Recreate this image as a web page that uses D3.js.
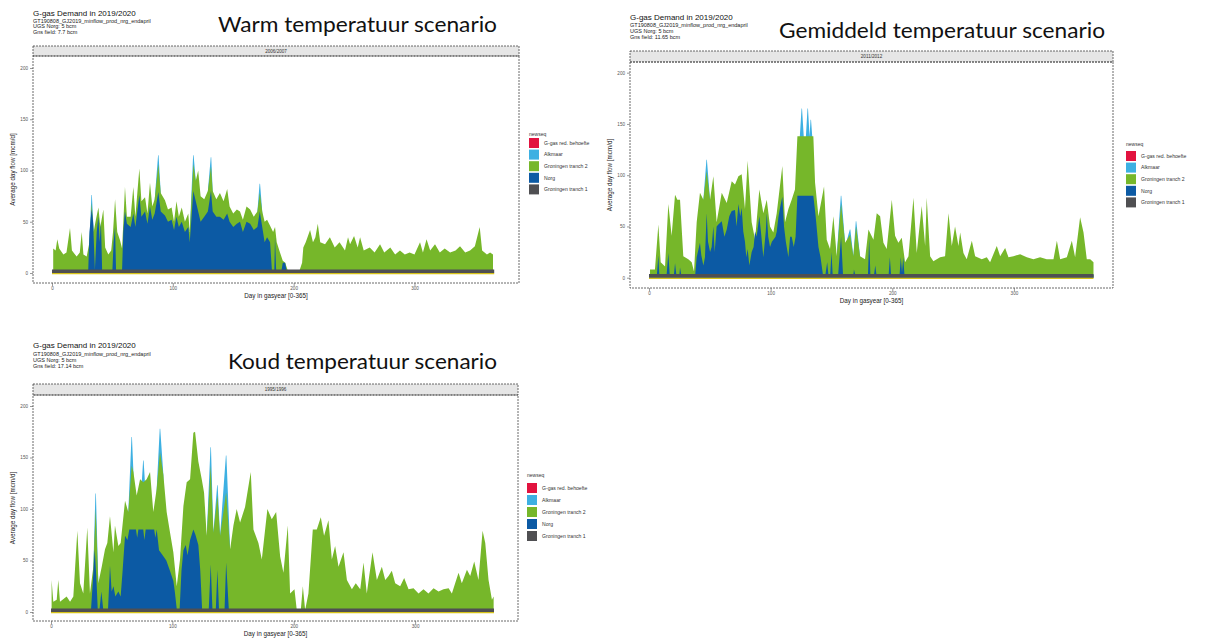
<!DOCTYPE html>
<html lang="nl">
<head>
<meta charset="UTF-8">
<title>G-gas Demand scenario's</title>
<script src="https://d3js.org/d3.v7.min.js"></script>
<style>
  body { margin: 0; background: #fff; }
  svg { display: block; font-family: "Liberation Sans", Arial, sans-serif; }
</style>
</head>
<body>
<div id="chart"></div>
<script>
// legend + axis ticks
const legendKeys = ["G-gas red. behoefte", "Alkmaar", "Groningen tranch 2", "Norg", "Groningen tranch 1"];
const legendColors = ["#e2133f", "#3db0e2", "#76b72a", "#0c5aa4", "#4f4f52"];
const xTicks = [0, 100, 200, 300];
const yTicks = [0, 50, 100, 150, 200];

// ---- Warm (2006/2007), [day, mcm/d], top edge of each colour ----
const warmGreen = [[1,24],[3,22],[4.4,33],[6,24],[9.4,18],[12,20],[14.9,44],[16.5,22],[20.4,16],[23,20],[24.6,40],[26,18],
  [28.7,16],[31,30],[32.8,68],[34.5,40],[36,50],[38.4,64],[40,45],[42.5,62],[44,25],[46.6,18],[49,22],[50.5,40],[52.2,72],
  [54,40],[56.3,32],[58,24],[60.4,84],[62,55],[65.1,55],[67.3,84],[69,55],[72.3,102],[74,70],[77,74],[79,58],[81.1,88],
  [83,65],[85,72],[88,106],[90,78],[93.5,71],[96,62],[99,64],[101,50],[103,70],[105,55],[107.4,64],[110,50],[112.8,58],
  [114,40],[117,106],[119,90],[121,100],[123,75],[126,72],[129,80],[131.6,104],[133,80],[136,72],[139,78],[142,70],[145,82],
  [147,65],[150,58],[153,62],[155.6,60],[158,52],[161,65],[164,62],[167,55],[170,60],[172,78],[174,60],[176,50],[178,52],
  [180.5,46],[183,40],[184.6,45],[186,30],[188.7,20],[191,12],[193,10],[195,3],[205,3],[207,10],[208,25],[210,30],[213.6,42],
  [216,30],[218,35],[220,48],[222,30],[226,28],[230,35],[234,25],[238,30],[242.5,22],[245,35],[246.7,28],[250,36],[253,25],
  [255,35],[258,22],[263,25],[267,20],[271.5,28],[275,20],[280,25],[284,18],[288,22],[292,18],[296,20],[300,18],[304.6,30],
  [307,20],[310,33],[313,22],[317,28],[321,20],[325,24],[329.5,20],[334,22],[337.7,26],[342,20],[346,22],[350,26],[354,45],
  [356,22],[360,18],[362.6,20],[365,18]];
const warmNorg = [[1,3],[30,3],[31,40],[32.8,62],[34,50],[35.5,3],[37,40],[38.4,55],[39.5,30],[40.5,50],[41.5,3],[50,3],
  [51,30],[52.2,45],[53,3],[58,3],[59,40],[60.4,60],[62,48],[65.1,45],[67.3,58],[69,45],[72.3,76],[74,55],[77,60],[79,48],
  [81.1,65],[83,52],[85,58],[88,79],[90,60],[93.5,56],[96,50],[99,52],[101,42],[103,55],[105,45],[107.4,50],[110,40],
  [112.8,45],[114,30],[117,80],[119,70],[121,60],[123,50],[126,55],[129,60],[131.6,80],[133,60],[136,55],[139,55],[142,52],
  [145,58],[147,50],[150,45],[153,48],[155.6,50],[158,40],[161,50],[164,48],[167,42],[170,45],[172,60],[174,45],[176,30],
  [178,35],[180.5,30],[182,3],[184,3],[184.6,35],[185.5,3],[190,3],[191,10],[193,10],[194,3],[365,3]];
const warmAlkmaar = [
  [31,0],[31,30],[32.6,76],[33,76],[34.5,40],[34.5,0],
  [85,0],[85,72],[87.8,115],[88.2,115],[90,78],[90,0],
  [114,0],[114,40],[116.8,115],[117.2,115],[119,90],[119,0],
  [129,0],[129,80],[131.4,113],[131.8,113],[133,80],[133,0],
  [170,0],[170,60],[171.8,87],[172.2,87],[174,60],[174,0]];
const warmBase = [[0,3.5],[366,3.5]];

// ---- Gemiddeld (2011/2012) ----
const avgGreen = [[0.8,8],[4.9,8],[7.7,52],[9.6,15],[13.2,11],[15.9,72],[18.6,41],[21.4,81],[23.3,76],[25.5,76],[28.2,21],
  [32.3,18],[35.1,15],[37,6],[39.2,54],[41.9,83],[44.7,76],[47.4,104],[50.2,76],[52.9,99],[55.6,54],[59.8,83],[63.9,73],
  [68,94],[70.7,91],[73.5,99],[76.2,101],[78.9,67],[81.1,114],[84.4,54],[87.2,37],[90.7,86],[94,63],[96.8,76],[99.5,50],
  [102.2,44],[105,63],[109.6,109],[111.8,54],[114.6,67],[117.3,76],[120,86],[122,138],[135.1,138],[136.5,93],[139.3,60],
  [143.9,89],[146.1,37],[148.8,28],[151.6,60],[154.3,21],[157.9,72],[161.2,34],[165.3,42],[168,21],[170.2,50],[173.5,21],
  [177.6,18],[180.4,47],[184.5,37],[187.2,63],[190,60],[192.7,34],[195.4,28],[199.6,76],[202.3,41],[205,34],[207.8,39],
  [210.5,15],[213.3,21],[217.4,78],[220.1,24],[224.2,70],[227,31],[228.3,78],[231.1,21],[233.8,16],[239.3,20],[243.4,21],
  [246.2,63],[248.9,31],[251.6,50],[254.4,31],[255.8,44],[258.5,24],[261.2,18],[265.4,36],[268.1,21],[273.6,18],[277.7,20],
  [280.4,15],[285.9,31],[288.7,21],[292.8,29],[295.5,20],[299.6,21],[305.1,23],[310.6,20],[316,18],[321.5,20],[327,18],
  [332.5,18],[335.3,36],[338,18],[343.5,20],[347.6,36],[350.3,20],[354.4,59],[357.2,44],[359.9,18],[362.7,18],[365.4,15]];
const avgNorg = [[0,3],[6.5,3],[7.7,22],[8.5,3],[14.5,3],[15.9,24],[17,3],[20.5,3],[21.4,14],[22.5,3],[25,3],[25.5,10],
  [26.5,3],[38,3],[39.2,20],[41.9,34],[43,22],[44.7,12],[46,20],[47.4,63],[48.5,35],[50.2,25],[51.5,30],[52.9,50],[54,25],
  [55.6,50],[57,52],[59.8,55],[62,40],[63.9,47],[66,60],[68,65],[70.7,66],[72,50],[73.5,72],[75,60],[76.2,68],[77.5,45],
  [78.9,35],[80,20],[81.1,28],[82.5,12],[84.4,25],[86,30],[87.2,45],[88.5,40],[90.7,60],[92,45],[94,20],[96,45],[96.8,63],
  [98,40],[99.5,30],[101,35],[102.2,37],[104,40],[105,45],[106.5,60],[108,70],[109.6,79],[111,50],[112.5,35],[114.6,20],
  [116,40],[117.3,40],[119,30],[120.5,40],[122,80],[135.1,80],[137,60],[139.3,30],[141,20],[143,3],[145,3],[146.5,15],
  [147.5,3],[149,3],[150,25],[151,3],[155.5,3],[157.9,40],[159.5,3],[168,3],[168.5,8],[169.5,3],[180,3],[181,38],[182,3],
  [185,3],[186,12],[187,3],[197,3],[198,20],[199,3],[206,3],[207,20],[208,5],[209,20],[210,3],[365.4,3]];
const avgAlkmaar = [
  [44.7,0],[44.7,76],[47.2,115],[47.6,115],[50.2,76],[50.2,0],
  [124,0],[124,138],[125.4,165],[125.8,165],[127.2,138],[127.2,0],
  [129,0],[129,138],[130.3,165],[130.7,165],[132,138],[132,0],
  [132,0],[132,138],[132.8,154],[133.2,154],[134.2,138],[134.2,0],
  [154.3,0],[154.3,21],[157.7,80],[158.1,80],[161.2,34],[161.2,0],
  [163,0],[163,38],[165.1,47],[165.5,47],[168,21],[168,0],
  [168,0],[168,21],[170,55],[170.4,55],[173.5,21],[173.5,0]];
const avgBase = [[0,3.5],[365.4,3.5]];

// ---- Koud (1995/1996) ----
const coldGreen = [[0.5,31],[1.9,10],[4.7,12],[6,31],[7.4,10],[12.9,15],[15.7,10],[18.4,15],[21.7,79],[23.9,28],[26.6,18],
  [29.9,82],[32.1,18],[34.9,44],[36.8,100],[39,28],[41.8,44],[44.5,61],[46.4,67],[48.6,93],[51.4,58],[52.7,84],[55.5,64],
  [57.4,67],[61,108],[63.7,97],[66.5,142],[67.9,136],[70.6,113],[73.4,129],[76.1,126],[78.8,129],[81.6,136],[84.3,97],
  [87.1,120],[89.8,155],[92.6,133],[95.3,97],[98.1,77],[100.8,58],[103.6,25],[106.3,51],[109.1,103],[111.8,126],[114.6,129],
  [117.3,174],[118.7,175],[121.4,146],[124.2,129],[126.1,116],[128.3,74],[131.6,142],[133.8,77],[137.1,113],[139.3,74],
  [144.3,116],[147.6,61],[150.3,84],[153,100],[155.8,87],[159.9,102],[164.6,136],[166.8,80],[170.9,67],[173.7,51],
  [178.3,100],[181.9,90],[185.5,97],[188.8,54],[191.5,38],[195.1,84],[197,18],[200.6,22],[202.5,2],[205.8,2],[207.5,25],
  [209.4,2],[212.1,18],[215.7,80],[219,80],[222.3,92],[225,74],[228.6,89],[231.4,51],[234.1,64],[236.9,44],[241,58],
  [243.8,31],[247.9,22],[251.1,28],[254.8,22],[257.5,48],[260.2,18],[264.9,58],[268.5,31],[272.6,44],[275.4,31],[278.1,35],
  [280.8,40],[283.6,28],[287.7,25],[291,33],[294.6,22],[298.7,23],[302.8,18],[306.9,22],[311,18],[315.2,23],[319.3,20],
  [323.4,22],[327.6,23],[330.3,18],[333,28],[335.8,38],[338.5,28],[342.7,41],[345.4,35],[348.7,49],[352.2,31],[355.6,79],
  [357.8,67],[360.5,31],[363.3,12],[364.7,15]];
const coldNorg = [[0,3],[33,3],[34.5,30],[36,61],[37.5,30],[38.5,3],[40,3],[41.5,20],[43,3],[47,3],[48.6,45],[50,20],
  [51.5,25],[53,15],[55.5,20],[57.4,15],[59,40],[61,74],[63,70],[64.5,80],[70,80],[71,72],[72,80],[76,80],[77,70],[78,80],
  [85,80],[86,72],[87.1,80],[89,60],[92,55],[95,50],[98,40],[100.8,30],[102,20],[103.6,3],[106,3],[107.5,40],[109.1,60],
  [111,65],[112.5,55],[114.6,70],[117.3,80],[119,75],[121.4,65],[123,40],[124.5,3],[130,3],[131.6,46],[133,3],[135.8,3],
  [137.1,41],[138.4,3],[143,3],[144.3,48],[146.5,3],[364.7,3]];
const coldAlkmaar = [
  [34.9,0],[34.9,44],[36.6,115],[37,115],[39,28],[39,0],
  [63.7,0],[63.7,97],[66.3,170],[66.7,170],[67.9,136],[67.9,0],
  [74.6,0],[74.6,122],[75.9,147],[76.3,147],[77.6,122],[77.6,0],
  [87.1,0],[87.1,120],[89.6,178],[90,178],[92.6,133],[92.6,0],
  [128.3,0],[128.3,74],[131.4,160],[131.8,160],[133.8,77],[133.8,0],
  [133.8,0],[133.8,77],[136.9,123],[137.3,123],[139.3,74],[139.3,0],
  [139.3,0],[139.3,74],[144.1,152],[144.5,152],[147.6,61],[147.6,0]];
const coldBase = [[0,3.5],[365,3.5]];

// layout of the three scanned plots
const panels = [
  { title: "Warm temperatuur scenario", strip: "2006/2007", run: "GT190808_GJ2019_minflow_prod_nrg_endapril",
    ugs: "UGS Norg: 5 bcm", field: "Gns field: 7.7 bcm",
    green: warmGreen, norg: warmNorg, alk: warmAlkmaar, base: warmBase,
    left: 33, right: 519, head: 15.5, info: [22.5, 28, 33.5], tx: 218, ty: 32, tw: 279,
    stripTop: 46, stripBot: 56, bottom: 283, xr: [52, 493], yr: [273, 68],
    lx: 529, ltitle: 136, lkey: 138, lstep: 11.6 },
  { title: "Gemiddeld temperatuur scenario", strip: "2011/2012", run: "GT190808_GJ2019_minflow_prod_nrg_endapril",
    ugs: "UGS Norg: 5 bcm", field: "Gns field: 11.65 bcm",
    green: avgGreen, norg: avgNorg, alk: avgAlkmaar, base: avgBase,
    left: 630, right: 1113, head: 20, info: [27, 33, 39], tx: 779, ty: 38, tw: 326,
    stripTop: 51, stripBot: 62, bottom: 288, xr: [649, 1093], yr: [277.7, 72.7],
    lx: 1126, ltitle: 146, lkey: 151, lstep: 11.6 },
  { title: "Koud temperatuur scenario", strip: "1995/1996", run: "GT190808_GJ2019_minflow_prod_nrg_endapril",
    ugs: "UGS Norg: 5 bcm", field: "Gns field: 17.14 bcm",
    green: coldGreen, norg: coldNorg, alk: coldAlkmaar, base: coldBase,
    left: 33, right: 518, head: 348, info: [356, 362, 368], tx: 228, ty: 369, tw: 269,
    stripTop: 384, stripBot: 395, bottom: 621, xr: [51, 494], yr: [612, 406],
    lx: 527, ltitle: 477, lkey: 483, lstep: 12 }
];

const svg = d3.select("#chart").append("svg")
  .attr("width", 1205)
  .attr("height", 641);

panels.forEach(p => {
  const g = svg.append("g");
  const x = d3.scaleLinear().domain([0, 365]).range(p.xr);
  const y = d3.scaleLinear().domain([0, 200]).range(p.yr);

  // header
  g.append("text").attr("x", p.left).attr("y", p.head)
    .attr("font-size", 8).attr("fill", "#111").text("G-gas Demand in 2019/2020");
  [p.run, p.ugs, p.field].forEach((t, i) => {
    g.append("text").attr("x", p.left).attr("y", p.info[i])
      .attr("font-size", 5.5).attr("fill", "#222").text(t);
  });
  g.append("text").attr("x", p.tx).attr("y", p.ty)
    .attr("font-family", "Lato, 'Open Sans', sans-serif")
    .attr("font-size", 22).attr("fill", "#111")
    .attr("textLength", p.tw).attr("lengthAdjust", "spacingAndGlyphs")
    .text(p.title);

  // facet strip
  g.append("rect").attr("x", p.left).attr("y", p.stripTop)
    .attr("width", p.right - p.left).attr("height", p.stripBot - p.stripTop)
    .attr("fill", "#e6e6e6").attr("stroke", "#444").attr("stroke-width", 0.8)
    .attr("stroke-dasharray", "2,1");
  g.append("text").attr("x", (p.left + p.right) / 2).attr("y", (p.stripTop + p.stripBot) / 2 + 1.7)
    .attr("text-anchor", "middle").attr("font-size", 4.6).attr("fill", "#333").text(p.strip);

  // stacked layers, painted from top layer down
  const area = d3.area().x(d => x(d[0])).y0(y(0)).y1(d => y(d[1]));
  g.append("path").datum(p.alk).attr("d", area).attr("fill", legendColors[1]);
  g.append("path").datum(p.green).attr("d", area).attr("fill", legendColors[2]);
  g.append("path").datum(p.norg).attr("d", area).attr("fill", legendColors[3]);
  g.append("path").datum(p.base).attr("d", area).attr("fill", legendColors[4]);
  g.append("path").datum(p.base)
    .attr("d", d3.line().x(d => x(d[0])).y(() => y(0) + 0.6))
    .attr("stroke", "#d6c218").attr("stroke-width", 1.3).attr("fill", "none");

  // panel border
  g.append("rect").attr("x", p.left).attr("y", p.stripBot)
    .attr("width", p.right - p.left).attr("height", p.bottom - p.stripBot)
    .attr("fill", "none").attr("stroke", "#444").attr("stroke-width", 0.8)
    .attr("stroke-dasharray", "2,1");

  // axes
  const yAxis = d3.axisLeft(y).tickValues(yTicks).tickSize(3).tickPadding(2);
  g.append("g").attr("transform", "translate(" + p.left + ",0)").call(yAxis)
    .call(a => a.select(".domain").remove())
    .call(a => a.selectAll("text").attr("font-size", 4.6).attr("fill", "#555"))
    .call(a => a.selectAll("line").attr("stroke", "#555").attr("stroke-width", 0.6));
  const xAxis = d3.axisBottom(x).tickValues(xTicks).tickSize(3).tickPadding(1.2);
  g.append("g").attr("transform", "translate(0," + p.bottom + ")").call(xAxis)
    .call(a => a.select(".domain").remove())
    .call(a => a.selectAll("text").attr("font-size", 4.6).attr("fill", "#555"))
    .call(a => a.selectAll("line").attr("stroke", "#555").attr("stroke-width", 0.6));

  g.append("text").attr("x", (p.left + p.right) / 2).attr("y", p.bottom + 14.5)
    .attr("text-anchor", "middle").attr("font-size", 6.3).attr("fill", "#222")
    .text("Day in gasyear [0-365]");
  g.append("text")
    .attr("transform", "translate(" + (p.left - 18) + "," + ((p.stripBot + p.bottom) / 2) + ") rotate(-90)")
    .attr("text-anchor", "middle").attr("font-size", 6.3).attr("fill", "#222")
    .text("Average day flow [mcm/d]");

  // legend
  g.append("text").attr("x", p.lx).attr("y", p.ltitle)
    .attr("font-size", 5).attr("fill", "#333").text("newseq");
  legendKeys.forEach((k, i) => {
    g.append("rect").attr("x", p.lx).attr("y", p.lkey + i * p.lstep)
      .attr("width", 10).attr("height", 10).attr("fill", legendColors[i]);
    g.append("text").attr("x", p.lx + 15).attr("y", p.lkey + i * p.lstep + 6.8)
      .attr("font-size", 5.1).attr("fill", "#333").text(k);
  });
});
</script>
</body>
</html>
